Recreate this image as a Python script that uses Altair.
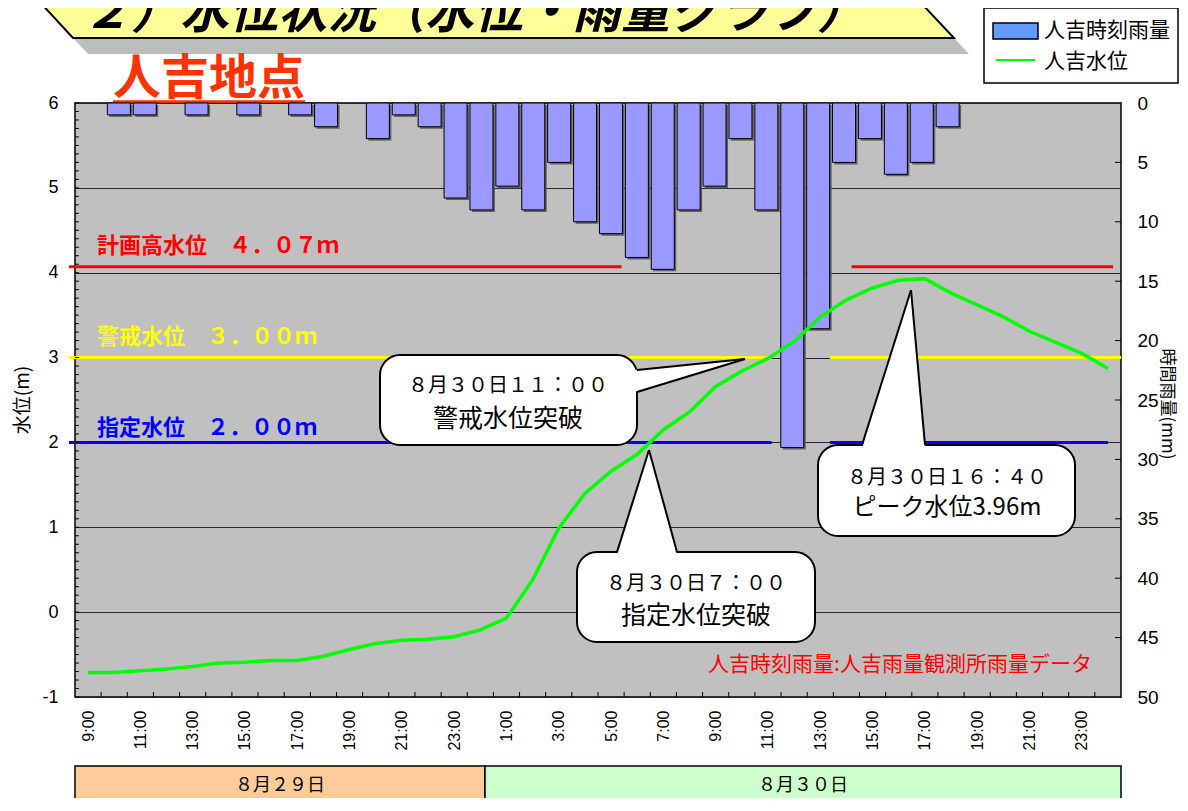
import json
import altair as alt
import pandas as pd

# ---------------- data ----------------
tick_labels = ["9:00", "11:00", "13:00", "15:00", "17:00", "19:00", "21:00", "23:00",
               "1:00", "3:00", "5:00", "7:00", "9:00", "11:00", "13:00", "15:00",
               "17:00", "19:00", "21:00", "23:00"]
rain_mm = [0, 1, 1, 0, 1, 0, 1, 0, 1, 2, 0, 3, 1, 2, 8, 9, 7, 9, 5, 10,
           11, 13, 14, 9, 7, 3, 9, 29, 19, 5, 3, 6, 5, 2, 0, 0, 0, 0, 0, 0]
level_m = [-0.71, -0.71, -0.69, -0.67, -0.64, -0.60, -0.59, -0.57, -0.57, -0.52,
           -0.44, -0.37, -0.33, -0.32, -0.29, -0.21, -0.07, 0.38, 0.99, 1.40,
           1.66, 1.86, 2.15, 2.36, 2.66, 2.84, 2.99, 3.19, 3.48, 3.68,
           3.82, 3.91, 3.93, 3.76, 3.62, 3.48, 3.31, 3.18, 3.05, 2.87]

threshold_levels = [4.07, 3.00, 2.00]
threshold_colors = ["#FF0000", "#FFFF00", "#0000FF"]
threshold_texts = ["計画高水位　４．０７ｍ", "警戒水位　３．００ｍ", "指定水位　２．００ｍ"]
threshold_label_levels = [4.31, 3.24, 2.17]
threshold_seg_from = [[-0.23, 29.7], [-0.23, 28.87], [-0.23, 28.87]]
threshold_seg_to = [[20.9, 39.7], [26.64, 40.0], [26.64, 39.5]]

callout_line1 = ["８月３０日１１：００", "８月３０日７：００", "８月３０日１６：４０"]
callout_line2 = ["警戒水位突破", "指定水位突破", "ピーク水位3.96m"]
day_labels = ["８月２９日", "８月３０日"]
day_colors = ["#FFCC99", "#CCFFCC"]
title_text = "２）水位状況（水位・雨量グラフ）"
station_text = "人吉地点"
legend_texts = ["人吉時刻雨量", "人吉水位"]
note_text = "人吉時刻雨量:人吉雨量観測所雨量データ"
left_title = "水位(m)"
right_title = "時間雨量(mm)"

CJK = "Noto Sans CJK JP"
LAT = "Liberation Sans"

# ---------------- scales ----------------
SLOT = alt.Scale(domain=[0, 40], nice=False, zero=False)
LEVEL = alt.Scale(domain=[-1, 6], nice=False, zero=False)
RAIN = alt.Scale(domain=[0, 50], reverse=True, nice=False, zero=True)
PX = alt.Scale(domain=[75, 1121], nice=False, zero=False)
PY = alt.Scale(domain=[103, 697], reverse=True, nice=False, zero=False)

n = len(rain_mm)
df = pd.DataFrame({"slot": list(range(n)), "rain": rain_mm, "level": level_m})
df["xc"] = df["slot"] + 0.5


def pxx(f="x"):
    return alt.X(f"{f}:Q", scale=PX, axis=None)


def pxy(f="y"):
    return alt.Y(f"{f}:Q", scale=PY, axis=None)


def ptext(rows, size, color="black", weight="normal", align="center", angle=0, style="normal",
          baseline="middle", font=CJK):
    d = pd.DataFrame(rows, columns=["x", "y", "t"])
    return alt.Chart(d).mark_text(
        clip=False, fontSize=size, color=color, fontWeight=weight, align=align,
        baseline=baseline, angle=angle, font=font, fontStyle=style
    ).encode(x=pxx(), y=pxy(), text="t:N")


layers = []

# ---- title banner ----
banner = pd.DataFrame({"x": [28.8, 73, 908.8, 954], "y": [-10, -10, -10, 38],
                       "y2": [-10, 38, 38, 38]})
shadow = banner.copy()
shadow["x"] = shadow["x"] + 15
shadow["y"] = shadow["y"] + 16
shadow["y2"] = shadow["y2"] + 16
layers.append(alt.Chart(shadow).mark_area(clip=False, color="#BDBDBD").encode(
    x=pxx(), y=pxy(), y2="y2:Q"))
layers.append(alt.Chart(banner).mark_area(clip=False, fill="#FFFF99", stroke="black",
                                          strokeWidth=2).encode(x=pxx(), y=pxy(), y2="y2:Q"))
layers.append(ptext([[82, 28, title_text]], 49, weight="bold", align="left",
                    style="italic", baseline="alphabetic"))

# ---- station name ----
layers.append(ptext([[113, 94, station_text]], 48, color="#FF3300", weight="bold",
                    align="left", baseline="alphabetic"))
layers.append(alt.Chart(pd.DataFrame({"x": [113], "x2": [305], "y": [101.5]})).mark_rule(
    clip=False, color="#FF3300", strokeWidth=2.5).encode(x=pxx(), x2="x2:Q", y=pxy()))

# ---- legend ----
layers.append(alt.Chart(pd.DataFrame({"x": [984], "x2": [1178], "y": [8], "y2": [83]})).mark_rect(
    clip=False, fill="white", stroke="black", strokeWidth=1.5).encode(
    x=pxx(), x2="x2:Q", y=pxy(), y2="y2:Q"))
layers.append(alt.Chart(pd.DataFrame({"x": [993], "x2": [1038], "y": [23], "y2": [39]})).mark_rect(
    clip=False, fill="#6699FF", stroke="black", strokeWidth=1.5).encode(
    x=pxx(), x2="x2:Q", y=pxy(), y2="y2:Q"))
layers.append(alt.Chart(pd.DataFrame({"x": [996], "x2": [1035], "y": [60]})).mark_rule(
    clip=False, color="#00FF00", strokeWidth=2).encode(x=pxx(), x2="x2:Q", y=pxy()))
layers.append(ptext([[1044, 31, legend_texts[0]], [1044, 62, legend_texts[1]]], 21, align="left"))

# ---- threshold lines ----
seg_rows = []
for lv, col, a, b in zip(threshold_levels, threshold_colors, threshold_seg_from, threshold_seg_to):
    for s, e in zip(a, b):
        seg_rows.append({"level": lv, "x0": s, "x1": e, "c": col})
layers.append(alt.Chart(pd.DataFrame(seg_rows)).mark_rule(clip=False, strokeWidth=3).encode(
    x=alt.X("x0:Q", scale=SLOT, axis=None), x2="x1:Q",
    y=alt.Y("level:Q", scale=LEVEL, axis=None),
    color=alt.Color("c:N", scale=None)))

# ---- rain bars ----
bars_src = alt.Chart(df).transform_filter("datum.rain > 0")
layers.append(bars_src.mark_bar(size=23, color="#606060", xOffset=2, yOffset=2).encode(
    x=alt.X("xc:Q", scale=SLOT, axis=None),
    y=alt.Y("rain:Q", scale=RAIN, axis=None)))
layers.append(bars_src.mark_bar(size=23, fill="#9999FF", stroke="black", strokeWidth=1).encode(
    x=alt.X("xc:Q", scale=SLOT, axis=None),
    y=alt.Y("rain:Q", scale=RAIN, axis=alt.Axis(
        orient="right", values=list(range(0, 55, 5)), ticks=False, domain=False, grid=False,
        labelFontSize=19, labelPadding=16, title=None, labelFont=LAT, labelFlush=False))))

# ---- water level line (carries the main x and left y axes) ----
layers.append(alt.Chart(df).mark_line(color="#00FF00", strokeWidth=3.5).encode(
    x=alt.X("xc:Q", scale=SLOT, axis=alt.Axis(
        values=[0.5 + 2 * k for k in range(len(tick_labels))],
        labelExpr=json.dumps(tick_labels, ensure_ascii=False) + "[round((datum.value - 0.5) / 2)]",
        labelAngle=270, labelFontSize=16, labelPadding=13, ticks=False, domain=False,
        grid=False, title=None, labelFlush=False, labelOverlap=False, labelFont=LAT)),
    y=alt.Y("level:Q", scale=LEVEL, axis=alt.Axis(
        values=list(range(-1, 7)), labelExpr="datum.value < 0 ? '-' + abs(datum.value) : '' + datum.value",
        grid=True, gridColor="#262626", gridWidth=1, ticks=False, domain=False,
        labelFontSize=18, labelPadding=17, title=None, labelFont=LAT, labelFlush=False))))

# ---- inner ticks ----
minor = pd.DataFrame({"v": [round(-1 + 0.1 * k, 1) for k in range(71)]})
minor["x0"] = 0.0
minor["x1"] = 0.15
layers.append(alt.Chart(minor).mark_rule(color="black", strokeWidth=1).encode(
    x=alt.X("x0:Q", scale=SLOT, axis=None), x2="x1:Q",
    y=alt.Y("v:Q", scale=LEVEL, axis=None)))
bt = pd.DataFrame({"x": list(range(1, 40))})
bt["y0"] = -1.0
bt["y1"] = -0.94
layers.append(alt.Chart(bt).mark_rule(color="black", strokeWidth=1).encode(
    x=alt.X("x:Q", scale=SLOT, axis=None),
    y=alt.Y("y0:Q", scale=LEVEL, axis=None), y2="y1:Q"))
rt = pd.DataFrame({"mm": list(range(5, 50, 5))})
rt["x0"] = 39.77
rt["x1"] = 40.0
layers.append(alt.Chart(rt).mark_rule(color="black", strokeWidth=1).encode(
    x=alt.X("x0:Q", scale=SLOT, axis=None), x2="x1:Q",
    y=alt.Y("mm:Q", scale=RAIN, axis=None)))

# ---- threshold labels ----
tl = pd.DataFrame({"x": [0.84] * 3, "y": threshold_label_levels, "t": threshold_texts,
                   "c": threshold_colors})
layers.append(alt.Chart(tl).mark_text(clip=False, fontSize=22, fontWeight="bold", align="left",
                                      baseline="middle", font=CJK).encode(
    x=alt.X("x:Q", scale=SLOT, axis=None), y=alt.Y("y:Q", scale=LEVEL, axis=None),
    text="t:N", color=alt.Color("c:N", scale=None)))

# ---- callouts ----
boxes = pd.DataFrame({"x": [380, 577, 818], "x2": [637, 815, 1075],
                      "y": [355, 552, 445], "y2": [445, 642, 536]})
layers.append(alt.Chart(boxes).mark_rect(clip=False, fill="white", stroke="black", strokeWidth=2,
                                         cornerRadius=20).encode(
    x=pxx(), x2="x2:Q", y=pxy(), y2="y2:Q"))
ptr = pd.DataFrame({
    "id": ["a", "a", "b", "b", "b", "c", "c", "c"],
    "x": [634, 745, 617, 649, 677, 862, 911, 925],
    "y": [370, 359, 555, 450, 555, 448, 290, 448],
    "y2": [392, 359, 555, 555, 555, 448, 448, 448]})
layers.append(alt.Chart(ptr).mark_area(clip=False, fill="white").encode(
    x=pxx(), y=pxy(), y2="y2:Q", detail="id:N"))
edges = pd.DataFrame({
    "x": [637, 637, 617, 677, 862, 925],
    "y": [370, 392, 552, 552, 445, 445],
    "x2": [745, 745, 649, 649, 911, 911],
    "y2": [359, 359, 450, 450, 290, 290]})
layers.append(alt.Chart(edges).mark_rule(clip=False, color="black", strokeWidth=2).encode(
    x=pxx(), x2="x2:Q", y=pxy(), y2="y2:Q"))
layers.append(ptext([[508, 386, callout_line1[0]], [696, 584, callout_line1[1]],
                     [947, 478, callout_line1[2]]], 20))
layers.append(ptext([[508, 419, callout_line2[0]], [696, 616, callout_line2[1]]], 25))
layers.append(ptext([[947, 508, callout_line2[2]]], 24))

# ---- note ----
layers.append(ptext([[900, 665, note_text]], 21, color="#FF0000"))

# ---- day bands ----
days = pd.DataFrame({"x": [75, 485], "x2": [485, 1121], "y": [766, 766], "y2": [830, 830],
                     "c": day_colors})
layers.append(alt.Chart(days).mark_rect(clip=False, stroke="black", strokeWidth=1.5).encode(
    x=pxx(), x2="x2:Q", y=pxy(), y2="y2:Q", fill=alt.Fill("c:N", scale=None)))
layers.append(ptext([[280, 786, day_labels[0]], [803, 786, day_labels[1]]], 18))

# ---- axis titles ----
layers.append(ptext([[23, 400, left_title]], 19, angle=270))
layers.append(ptext([[1167, 404, right_title]], 17, angle=90))

chart = alt.layer(*layers).properties(
    width=1046, height=594,
    autosize=alt.AutoSizeParams(type="none"),
    padding={"left": 67, "top": 95, "right": 59, "bottom": 101},
).resolve_scale(x="independent", y="independent").configure_view(
    fill="#C0C0C0", stroke="black", strokeWidth=1.5
).configure_axis(labelColor="black")

chart.save("out.html", embed_options={"renderer": "svg", "actions": False})
